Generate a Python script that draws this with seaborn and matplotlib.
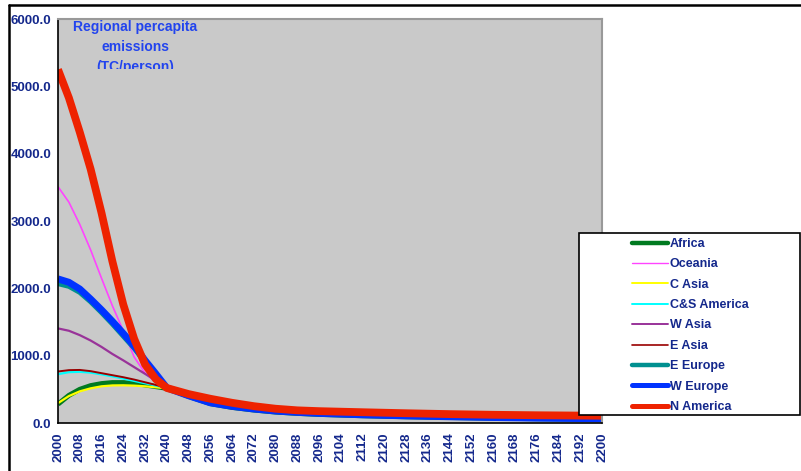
import numpy as np
import pandas as pd
import seaborn as sns
import matplotlib
matplotlib.use("Agg")
import matplotlib.pyplot as plt
from matplotlib.ticker import MultipleLocator, FormatStrFormatter
from matplotlib.patches import Rectangle
from matplotlib.lines import Line2D
from matplotlib.transforms import Bbox, TransformedBbox

# ---------------- data ----------------
years = [2000, 2004, 2008, 2012, 2016, 2020, 2024, 2028, 2032, 2036, 2040,
         2048, 2056, 2064, 2072, 2080, 2088, 2096, 2112, 2128, 2144, 2160, 2176, 2200]

africa      = [280, 410, 500, 555, 585, 600, 600, 590, 565, 540, 515,
               395, 288, 232, 193, 163, 143, 128, 108, 93, 82, 72, 64, 55]
oceania     = [3510, 3280, 2950, 2570, 2150, 1740, 1370, 980, 740, 600, 520,
               400, 292, 238, 198, 168, 148, 133, 113, 98, 86, 76, 68, 59]
c_asia      = [295, 400, 470, 515, 545, 558, 560, 555, 545, 530, 515,
               396, 290, 235, 196, 166, 146, 131, 111, 96, 84, 74, 66, 57]
cs_america  = [725, 755, 760, 748, 722, 692, 660, 625, 590, 555, 520,
               398, 292, 237, 197, 167, 147, 132, 112, 97, 85, 75, 67, 58]
w_asia      = [1405, 1370, 1305, 1225, 1130, 1025, 930, 830, 730, 630, 520,
               400, 293, 238, 198, 168, 148, 133, 113, 98, 86, 76, 68, 59]
e_asia      = [765, 785, 788, 770, 740, 710, 680, 645, 605, 565, 520,
               400, 294, 239, 199, 169, 149, 134, 114, 99, 87, 77, 69, 60]
e_europe    = [2070, 2030, 1940, 1800, 1640, 1470, 1290, 1110, 900, 710, 520,
               402, 296, 242, 202, 172, 152, 137, 117, 101, 89, 79, 70, 61]
w_europe    = [2140, 2090, 1990, 1840, 1680, 1510, 1330, 1145, 930, 730, 522,
               405, 300, 247, 208, 178, 158, 143, 122, 106, 93, 82, 73, 63]
n_america   = [5250, 4830, 4320, 3770, 3120, 2400, 1760, 1250, 870, 650, 520,
               430, 360, 300, 250, 212, 188, 176, 160, 145, 132, 122, 115, 108]

regions = ["Africa", "Oceania", "C Asia", "C&S America", "W Asia",
           "E Asia", "E Europe", "W Europe", "N America"]
series = [africa, oceania, c_asia, cs_america, w_asia, e_asia,
          e_europe, w_europe, n_america]
colors = ["#007A20", "#FF44FF", "#FFFF00", "#00FFFF", "#993399",
          "#990000", "#009090", "#0033FF", "#EE2200"]
widths = [3.6, 1.2, 1.6, 1.6, 1.6, 1.4, 3.6, 5.0, 5.6]
leg_widths = [3.2, 1.0, 1.4, 1.4, 1.4, 1.2, 3.2, 3.6, 3.6]

y_ticks = [0, 1000, 2000, 3000, 4000, 5000, 6000]
x_ticks = list(range(2000, 2201, 8))

title_text = "Regional percapita\nemissions\n(TC/person)"

# ---------------- style ----------------
sns.set_style("white")
plt.rcParams["font.family"] = ["Liberation Sans", "DejaVu Sans"]
navy = "#14288C"

W, H = 801, 471
fig = plt.figure(figsize=(W / 100, H / 100), dpi=100)
ax = fig.add_axes([58 / W, 1 - 423 / H, (602 - 58) / W, (423 - 19) / H])
ax.set_facecolor("#C9C9C9")

df = pd.DataFrame({
    "year": np.tile(years, len(regions)),
    "value": np.concatenate(series),
    "region": np.repeat(regions, len(years)),
})

for reg, col, lw in zip(regions, colors, widths):
    sub = df[df["region"] == reg]
    sns.lineplot(data=sub, x="year", y="value", ax=ax, color=col,
                 linewidth=lw, label=reg, legend=False,
                 solid_capstyle="butt", solid_joinstyle="round")

ax.set_xlim(2000, 2200)
ax.set_ylim(0, 6000)
ax.set_xlabel("")
ax.set_ylabel("")
ax.set_yticks(y_ticks)
ax.yaxis.set_major_formatter(FormatStrFormatter("%.1f"))
ax.set_xticks(x_ticks)
ax.xaxis.set_minor_locator(MultipleLocator(1))
ax.set_xticklabels([str(x) for x in x_ticks], rotation=90)

ax.tick_params(axis="y", which="major", direction="inout", length=6, width=1,
               color="black", labelsize=9.5, labelcolor=navy, pad=2)
ax.tick_params(axis="x", which="both", direction="out", length=4, width=1,
               color="#333333", labelsize=9.5, labelcolor=navy, pad=3)
for lab in ax.get_xticklabels() + ax.get_yticklabels():
    lab.set_fontweight("bold")

for s in ["left", "bottom"]:
    ax.spines[s].set_color("black")
    ax.spines[s].set_linewidth(1.2)
for s in ["top", "right"]:
    ax.spines[s].set_color("#999999")
    ax.spines[s].set_linewidth(1.5)

# title inside plot, clipped at its bottom like the original
t = ax.text(135 / W, 1 - 20 / H, title_text, transform=fig.transFigure,
            ha="center", va="top", fontsize=10, fontweight="bold",
            color="#2244EE", linespacing=1.55)
t.set_clip_on(True)
t.set_clip_box(TransformedBbox(Bbox([[0, 1 - 68.5 / H], [1, 1]]), fig.transFigure))

# outer frame lines
fig.add_artist(Line2D([9 / W, 1.0], [1 - 5 / H, 1 - 5 / H], transform=fig.transFigure,
                      color="black", linewidth=1.8))
fig.add_artist(Line2D([9 / W, 9 / W], [0, 1 - 5 / H], transform=fig.transFigure,
                      color="black", linewidth=1.8))

# legend box
box = Rectangle((579 / W, 1 - 415 / H), (800 - 579) / W, (415 - 233) / H,
                transform=fig.transFigure, facecolor="white", edgecolor="black",
                linewidth=1.2, zorder=3)
fig.add_artist(box)

handles = [Line2D([0], [0], color=c, linewidth=lw) for c, lw in zip(colors, leg_widths)]
leg = fig.legend(handles, regions, loc="upper left",
                 bbox_to_anchor=(632 / W, 1 - 238 / H), frameon=False,
                 borderpad=0, borderaxespad=0, handlelength=2.9,
                 handletextpad=0.1, labelspacing=0.67,
                 prop={"size": 9, "weight": "bold"})
leg.set_zorder(5)
for txt in leg.get_texts():
    txt.set_color(navy)

fig.savefig("out.png", dpi=100)
